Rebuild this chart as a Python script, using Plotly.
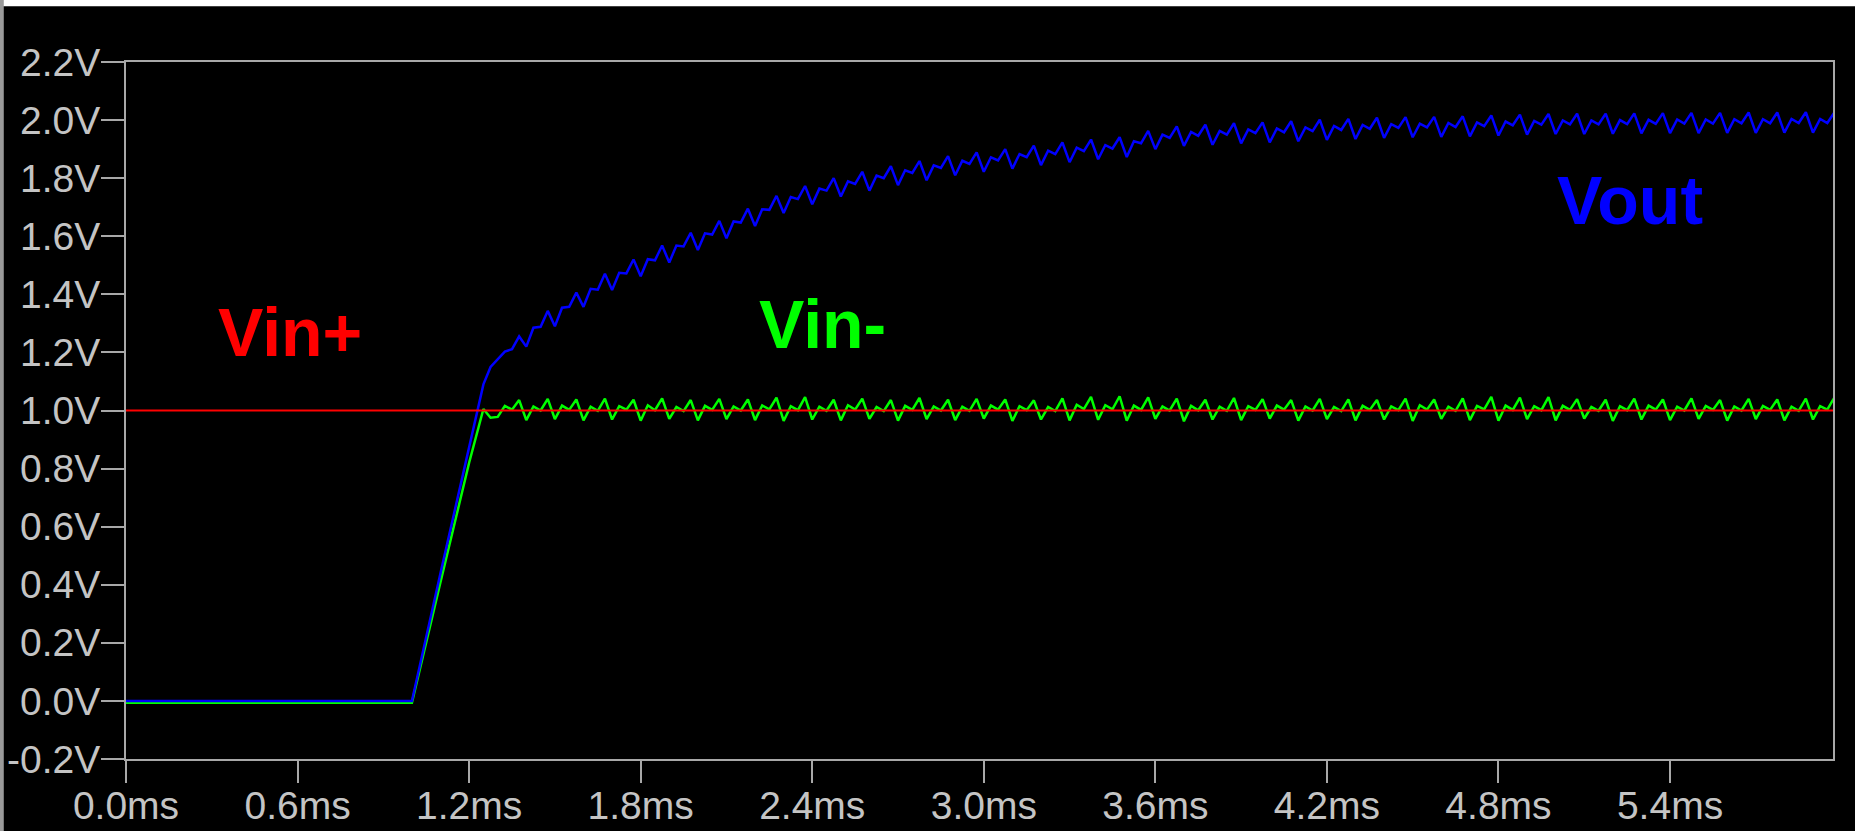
import plotly.graph_objects as go

# ---------------- data (time in ms, voltages in V) ----------------
# Vin+ : constant reference
vinp_t = [0.0, 5.97]
vinp_v = [1.0, 1.0]

# start-up part (flat then ramp)
vinm_t_start = [0.0, 1.0, 1.1, 1.2, 1.25, 1.275]
vinm_v_start = [-0.006, -0.006, 0.41, 0.82, 1.005, 0.975]

vout_t_start = [0.0, 1.0, 1.1, 1.2, 1.23, 1.25, 1.275]
vout_v_start = [0.0, 0.0, 0.44, 0.875, 1.0, 1.09, 1.15]

# rippling part, sampled every 0.025 ms
t_ripple = [
    1.300, 1.325, 1.350, 1.375, 1.400, 1.425, 1.450, 1.475,
    1.500, 1.525, 1.550, 1.575, 1.600, 1.625, 1.650, 1.675,
    1.700, 1.725, 1.750, 1.775, 1.800, 1.825, 1.850, 1.875,
    1.900, 1.925, 1.950, 1.975, 2.000, 2.025, 2.050, 2.075,
    2.100, 2.125, 2.150, 2.175, 2.200, 2.225, 2.250, 2.275,
    2.300, 2.325, 2.350, 2.375, 2.400, 2.425, 2.450, 2.475,
    2.500, 2.525, 2.550, 2.575, 2.600, 2.625, 2.650, 2.675,
    2.700, 2.725, 2.750, 2.775, 2.800, 2.825, 2.850, 2.875,
    2.900, 2.925, 2.950, 2.975, 3.000, 3.025, 3.050, 3.075,
    3.100, 3.125, 3.150, 3.175, 3.200, 3.225, 3.250, 3.275,
    3.300, 3.325, 3.350, 3.375, 3.400, 3.425, 3.450, 3.475,
    3.500, 3.525, 3.550, 3.575, 3.600, 3.625, 3.650, 3.675,
    3.700, 3.725, 3.750, 3.775, 3.800, 3.825, 3.850, 3.875,
    3.900, 3.925, 3.950, 3.975, 4.000, 4.025, 4.050, 4.075,
    4.100, 4.125, 4.150, 4.175, 4.200, 4.225, 4.250, 4.275,
    4.300, 4.325, 4.350, 4.375, 4.400, 4.425, 4.450, 4.475,
    4.500, 4.525, 4.550, 4.575, 4.600, 4.625, 4.650, 4.675,
    4.700, 4.725, 4.750, 4.775, 4.800, 4.825, 4.850, 4.875,
    4.900, 4.925, 4.950, 4.975, 5.000, 5.025, 5.050, 5.075,
    5.100, 5.125, 5.150, 5.175, 5.200, 5.225, 5.250, 5.275,
    5.300, 5.325, 5.350, 5.375, 5.400, 5.425, 5.450, 5.475,
    5.500, 5.525, 5.550, 5.575, 5.600, 5.625, 5.650, 5.675,
    5.700, 5.725, 5.750, 5.775, 5.800, 5.825, 5.850, 5.875,
    5.900, 5.925, 5.950, 5.975,
]

vout_ripple = [
    1.175, 1.203, 1.211, 1.255, 1.220, 1.285, 1.288, 1.343,
    1.290, 1.354, 1.357, 1.406, 1.357, 1.419, 1.416, 1.471,
    1.415, 1.474, 1.472, 1.520, 1.462, 1.521, 1.517, 1.568,
    1.510, 1.568, 1.565, 1.612, 1.553, 1.610, 1.606, 1.653,
    1.593, 1.651, 1.647, 1.695, 1.635, 1.693, 1.691, 1.739,
    1.680, 1.735, 1.728, 1.773, 1.710, 1.764, 1.757, 1.800,
    1.737, 1.789, 1.780, 1.822, 1.757, 1.809, 1.800, 1.841,
    1.776, 1.827, 1.818, 1.859, 1.793, 1.844, 1.835, 1.876,
    1.810, 1.860, 1.849, 1.889, 1.822, 1.872, 1.861, 1.900,
    1.833, 1.883, 1.872, 1.912, 1.845, 1.895, 1.883, 1.923,
    1.855, 1.905, 1.893, 1.933, 1.865, 1.914, 1.902, 1.941,
    1.873, 1.927, 1.920, 1.963, 1.900, 1.950, 1.939, 1.978,
    1.911, 1.959, 1.946, 1.984, 1.915, 1.963, 1.950, 1.989,
    1.920, 1.968, 1.955, 1.992, 1.923, 1.971, 1.958, 1.996,
    1.927, 1.975, 1.962, 2.001, 1.932, 1.980, 1.966, 2.004,
    1.935, 1.983, 1.970, 2.008, 1.939, 1.986, 1.973, 2.010,
    1.941, 1.988, 1.975, 2.011, 1.942, 1.990, 1.976, 2.013,
    1.944, 1.992, 1.979, 2.016, 1.947, 1.995, 1.982, 2.019,
    1.950, 1.997, 1.984, 2.021, 1.952, 1.999, 1.985, 2.022,
    1.952, 1.999, 1.985, 2.022, 1.953, 2.000, 1.986, 2.023,
    1.954, 2.001, 1.987, 2.024, 1.955, 2.002, 1.988, 2.025,
    1.955, 2.002, 1.988, 2.025, 1.956, 2.003, 1.989, 2.026,
    1.956, 2.003, 1.989, 2.026, 1.957, 2.004, 1.990, 2.027,
    1.957, 2.004, 1.990, 2.027,
]

vinm_ripple = [
    0.978, 1.016, 1.003, 1.036, 0.967, 1.014, 1.000, 1.040,
    0.970, 1.017, 1.002, 1.038, 0.966, 1.013, 0.999, 1.041,
    0.969, 1.015, 1.003, 1.037, 0.965, 1.018, 1.001, 1.042,
    0.971, 1.012, 0.998, 1.036, 0.966, 1.016, 1.002, 1.040,
    0.970, 1.014, 1.000, 1.038, 0.967, 1.017, 1.004, 1.044,
    0.964, 1.015, 1.001, 1.046, 0.969, 1.013, 0.999, 1.037,
    0.966, 1.018, 1.003, 1.041, 0.971, 1.012, 0.998, 1.036,
    0.965, 1.016, 1.002, 1.043, 0.970, 1.014, 1.000, 1.037,
    0.967, 1.013, 0.999, 1.040, 0.972, 1.017, 1.003, 1.038,
    0.964, 1.015, 1.001, 1.035, 0.969, 1.012, 0.998, 1.042,
    0.966, 1.020, 1.005, 1.047, 0.968, 1.018, 1.004, 1.049,
    0.965, 1.017, 1.002, 1.045, 0.971, 1.014, 1.000, 1.041,
    0.963, 1.016, 1.001, 1.037, 0.969, 1.013, 0.999, 1.043,
    0.967, 1.015, 1.002, 1.039, 0.972, 1.017, 1.003, 1.036,
    0.965, 1.014, 1.000, 1.040, 0.970, 1.012, 0.998, 1.038,
    0.966, 1.016, 1.002, 1.036, 0.969, 1.014, 1.001, 1.041,
    0.964, 1.018, 1.003, 1.038, 0.971, 1.013, 0.999, 1.042,
    0.967, 1.016, 1.004, 1.047, 0.965, 1.017, 1.002, 1.044,
    0.970, 1.015, 1.001, 1.046, 0.966, 1.016, 1.002, 1.039,
    0.972, 1.012, 0.999, 1.037, 0.964, 1.015, 1.001, 1.041,
    0.969, 1.017, 1.003, 1.038, 0.967, 1.013, 1.000, 1.042,
    0.971, 1.016, 1.002, 1.036, 0.965, 1.014, 1.000, 1.040,
    0.970, 1.016, 1.002, 1.038, 0.966, 1.013, 0.999, 1.041,
    0.969, 1.015, 1.003, 1.045,
]

x_tickvals = [0.0, 0.6, 1.2, 1.8, 2.4, 3.0, 3.6, 4.2, 4.8, 5.4]
x_ticktext = ["0.0ms", "0.6ms", "1.2ms", "1.8ms", "2.4ms", "3.0ms",
              "3.6ms", "4.2ms", "4.8ms", "5.4ms"]
y_tickvals = [-0.2, 0.0, 0.2, 0.4, 0.6, 0.8, 1.0, 1.2, 1.4, 1.6, 1.8, 2.0, 2.2]
y_ticktext = ["-0.2V", "0.0V", "0.2V", "0.4V", "0.6V", "0.8V", "1.0V",
              "1.2V", "1.4V", "1.6V", "1.8V", "2.0V", "2.2V"]

labels = ["Vin+", "Vin-", "Vout"]
label_x = [0.575, 2.435, 5.26]
label_y = [1.27, 1.297, 1.724]
label_colors = ["#ff0000", "#00ff00", "#0000ff"]

# ---------------- figure ----------------
vinm_t = vinm_t_start + t_ripple
vinm_v = vinm_v_start + vinm_ripple
vout_t = vout_t_start + t_ripple
vout_v = vout_v_start + vout_ripple

fig = go.Figure()
fig.add_trace(go.Scatter(x=vinm_t, y=vinm_v, mode="lines", name="V(vin-)",
                         line=dict(color="#00ff00", width=2.5)))
fig.add_trace(go.Scatter(x=vout_t, y=vout_v, mode="lines", name="V(vout)",
                         line=dict(color="#0000ff", width=2.5)))
fig.add_trace(go.Scatter(x=vinp_t, y=vinp_v, mode="lines", name="V(vin+)",
                         line=dict(color="#ff0000", width=2)))

for txt, x, y, c in zip(labels, label_x, label_y, label_colors):
    fig.add_annotation(x=x, y=y, text=txt, showarrow=False,
                       xanchor="center", yanchor="middle",
                       font=dict(family="Liberation Sans, Arial, sans-serif",
                                 size=68, color=c, weight="bold"))

axis_col = "#a8a8a8"
tick_font = dict(family="Liberation Sans, Arial, sans-serif", size=39, color="#c4c4c4")

fig.update_xaxes(range=[0, 5.97], tickmode="array", tickvals=x_tickvals,
                 ticktext=x_ticktext, ticks="outside", ticklen=22, tickwidth=2,
                 tickcolor=axis_col, showline=True, linecolor=axis_col,
                 linewidth=2, mirror=True, showgrid=False, zeroline=False,
                 tickfont=tick_font, automargin=False, ticklabelstandoff=-11)
fig.update_yaxes(range=[-0.2, 2.2], tickmode="array", tickvals=y_tickvals,
                 ticktext=y_ticktext, ticks="outside", ticklen=23, tickwidth=2,
                 tickcolor=axis_col, showline=True, linecolor=axis_col,
                 linewidth=2, mirror=True, showgrid=False, zeroline=False,
                 tickfont=tick_font, automargin=False, ticklabelstandoff=-7)

# white strip at the very top and thin grey edge on the left of the window
fig.add_shape(type="rect", xref="paper", yref="paper",
              x0=-0.08, x1=1.02, y0=1.0799, y1=1.1,
              fillcolor="#ffffff", line=dict(width=0), layer="above")
fig.add_shape(type="rect", xref="paper", yref="paper",
              x0=-0.0740, x1=-0.0716, y0=-0.11, y1=1.09,
              fillcolor="#9a9a9a", line=dict(width=0), layer="above")

fig.update_layout(width=1855, height=831,
                  margin=dict(l=126, r=22, t=62, b=72, autoexpand=False),
                  paper_bgcolor="#000000", plot_bgcolor="#000000",
                  showlegend=False)

fig.write_html("out.html", config={"displayModeBar": False},
               post_script="document.body.style.margin='0';document.body.style.overflow='hidden';")
